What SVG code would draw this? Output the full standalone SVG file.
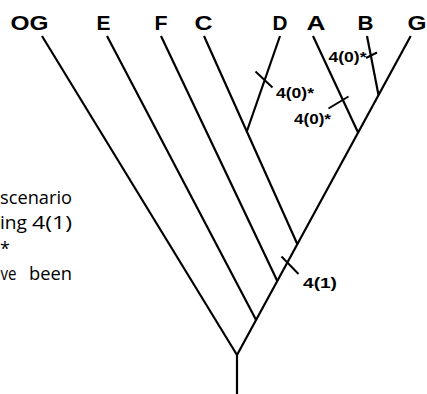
<svg xmlns="http://www.w3.org/2000/svg" width="427" height="394" viewBox="0 0 427 394">
<style>
.br{stroke:#000;stroke-width:2.2;fill:none;stroke-linecap:butt}
.tk{stroke:#000;stroke-width:2;fill:none}
.tx{font-family:"Liberation Sans",Arial,sans-serif;font-weight:bold;font-size:21px;fill:#000;text-anchor:middle}
.lb{font-family:"Liberation Sans",Arial,sans-serif;font-weight:bold;font-size:14.5px;fill:#000}
.side{font-family:"Open Sans","Noto Sans",sans-serif;font-size:18px;fill:#000}
</style>
<rect width="427" height="394" fill="#fff"/>
<g id="side-text">
<text class="side" x="0" y="204" textLength="72" lengthAdjust="spacingAndGlyphs">scenario</text>
<text class="side" x="0" y="229" textLength="27" lengthAdjust="spacingAndGlyphs">ing</text>
<text class="side" x="32" y="229" textLength="40" lengthAdjust="spacingAndGlyphs">4(1)</text>
<text class="side" x="0" y="255">*</text>
<text class="side" x="0.5" y="280" textLength="16" lengthAdjust="spacingAndGlyphs">ve</text>
<text class="side" x="29" y="280" textLength="43" lengthAdjust="spacingAndGlyphs">been</text>
</g>
<g id="connectors">
<line class="br" x1="237" y1="355" x2="237" y2="394"/>
<line class="br" x1="42" y1="36" x2="237" y2="355"/>
<line class="br" x1="237" y1="355" x2="410.7" y2="36"/>
<line class="br" x1="107" y1="36" x2="256.1" y2="320"/>
<line class="br" x1="161" y1="36" x2="277.3" y2="281"/>
<line class="br" x1="204" y1="36" x2="297.5" y2="244.5"/>
<line class="br" x1="280" y1="36" x2="246.8" y2="131.5"/>
<line class="br" x1="313" y1="36" x2="358.3" y2="133"/>
<line class="br" x1="367" y1="36" x2="378.5" y2="95"/>
<line class="tk" x1="255.5" y1="71.5" x2="272.5" y2="87.5"/>
<line class="tk" x1="328.5" y1="108.5" x2="348.5" y2="96.5"/>
<line class="tk" x1="366" y1="58" x2="377" y2="52.5"/>
<line class="tk" x1="281.5" y1="256.5" x2="298.5" y2="274"/>
</g>
<g id="node-OG"><text class="tx" x="29.5" y="30" textLength="38" lengthAdjust="spacingAndGlyphs">OG</text></g>
<g id="node-E"><text class="tx" x="103.5" y="30" textLength="14" lengthAdjust="spacingAndGlyphs">E</text></g>
<g id="node-F"><text class="tx" x="161" y="30" textLength="13" lengthAdjust="spacingAndGlyphs">F</text></g>
<g id="node-C"><text class="tx" x="203.5" y="30" textLength="18" lengthAdjust="spacingAndGlyphs">C</text></g>
<g id="node-D"><text class="tx" x="280" y="30" textLength="15" lengthAdjust="spacingAndGlyphs">D</text></g>
<g id="node-A"><text class="tx" x="316" y="30" textLength="19" lengthAdjust="spacingAndGlyphs">A</text></g>
<g id="node-B"><text class="tx" x="365.5" y="30" textLength="16" lengthAdjust="spacingAndGlyphs">B</text></g>
<g id="node-G"><text class="tx" x="417" y="30" textLength="19" lengthAdjust="spacingAndGlyphs">G</text></g>
<g id="labels">
<text class="lb" x="276" y="98" textLength="38" lengthAdjust="spacingAndGlyphs">4(0)*</text>
<text class="lb" x="294" y="124" textLength="37" lengthAdjust="spacingAndGlyphs">4(0)*</text>
<text class="lb" x="328.5" y="62" textLength="38" lengthAdjust="spacingAndGlyphs">4(0)*</text>
<text class="lb" x="303" y="288" textLength="34" lengthAdjust="spacingAndGlyphs">4(1)</text>
</g>
</svg>
